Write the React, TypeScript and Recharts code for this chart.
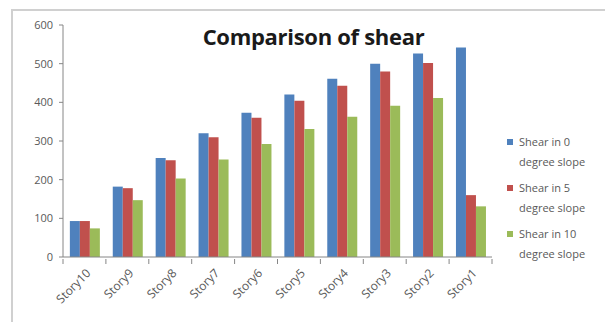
import { BarChart, Bar, XAxis, YAxis, Legend } from 'recharts'

const stories = ['Story10', 'Story9', 'Story8', 'Story7', 'Story6', 'Story5', 'Story4', 'Story3', 'Story2', 'Story1']
const shear0 = [93, 182, 256, 320, 373, 420, 461, 500, 526, 542]
const shear5 = [93, 178, 250, 310, 360, 404, 443, 480, 502, 160]
const shear10 = [74, 147, 203, 252, 292, 331, 363, 391, 411, 131]
const yTicks = [0, 100, 200, 300, 400, 500, 600]

const seriesInfo = [
  { key: 'shear0', color: '#4F81BD', line1: 'Shear in 0', line2: 'degree slope' },
  { key: 'shear5', color: '#C0504D', line1: 'Shear in 5', line2: 'degree slope' },
  { key: 'shear10', color: '#9BBB59', line1: 'Shear in 10', line2: 'degree slope' },
]

const data = stories.map((s, i) => ({ story: s, shear0: shear0[i], shear5: shear5[i], shear10: shear10[i] }))

const FONT = '"Open Sans", "Liberation Sans", sans-serif'
const AXIS_GREY = '#868686'
const TEXT_GREY = '#595959'

function StoryTick(props: any) {
  const { x, y, payload, index } = props
  const off = payload.offset ?? 0
  const last = index === stories.length - 1
  return (
    <g>
      <line x1={x - off} y1={y} x2={x - off} y2={y + 5} stroke={AXIS_GREY} />
      {last && <line x1={x + off} y1={y} x2={x + off} y2={y + 5} stroke={AXIS_GREY} />}
      <text
        x={0}
        y={0}
        transform={`translate(${x + 7},${y + 15}) rotate(-45)`}
        textAnchor="end"
        fontSize={12}
        fontFamily={FONT}
        fill={TEXT_GREY}
      >
        {payload.value}
      </text>
    </g>
  )
}

function LegendBox() {
  return (
    <div style={{ fontFamily: FONT, fontSize: 11, color: TEXT_GREY, lineHeight: '20px' }}>
      {seriesInfo.map(s => (
        <div key={s.key} style={{ position: 'relative', paddingLeft: 12, marginBottom: 6 }}>
          <span style={{ position: 'absolute', left: 0, top: 7, width: 6, height: 6, background: s.color }} />
          <div>{s.line1}</div>
          <div>{s.line2}</div>
        </div>
      ))}
    </div>
  )
}

export default function App() {
  return (
    <div style={{ position: 'relative', width: 605, height: 314, overflow: 'hidden', background: '#fff' }}>
      <div style={{ position: 'absolute', left: 3, top: 1, width: 640, height: 360, border: '2px solid #d0d0d0' }} />
      <BarChart
        width={605}
        height={314}
        data={data}
        margin={{ top: 17, right: 121, bottom: 8, left: 10 }}
        barCategoryGap="16%"
        barGap={0}
      >
        <XAxis
          dataKey="story"
          height={57}
          tickSize={0}
          tickLine={false}
          axisLine={{ stroke: AXIS_GREY }}
          interval={0}
          tick={<StoryTick />}
        />
        <YAxis
          width={45}
          domain={[0, 600]}
          ticks={yTicks}
          tickSize={4}
          tickMargin={6}
          axisLine={{ stroke: AXIS_GREY }}
          tickLine={{ stroke: AXIS_GREY }}
          tick={{ fontSize: 11, fontFamily: FONT, fill: TEXT_GREY }}
        />
        <Legend
          verticalAlign="top"
          layout="horizontal"
          content={<LegendBox />}
          wrapperStyle={{ position: 'absolute', left: 499, top: 124, width: 110, height: 0 }}
        />
        {seriesInfo.map(s => (
          <Bar key={s.key} dataKey={s.key} fill={s.color} isAnimationActive={false} />
        ))}
      </BarChart>
      <div
        style={{
          position: 'absolute',
          left: 0,
          width: 611,
          top: 13,
          textAlign: 'center',
          fontFamily: FONT,
          fontWeight: 700,
          fontSize: 22,
          letterSpacing: -0.3,
          color: '#1a1a1a',
          pointerEvents: 'none',
        }}
      >
        Comparison of shear
      </div>
    </div>
  )
}
